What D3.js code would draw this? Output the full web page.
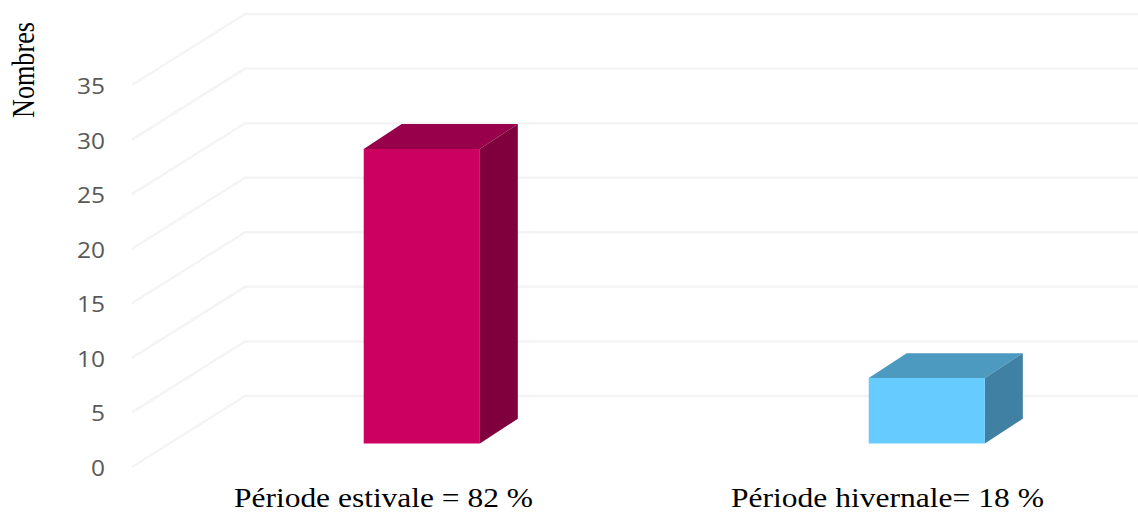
<!DOCTYPE html>
<html><head><meta charset="utf-8">
<script src="https://cdn.jsdelivr.net/npm/d3@7/dist/d3.min.js"></script>
<style>html,body{margin:0;padding:0;background:#fff;overflow:hidden}svg{display:block}</style>
</head><body><div id="chart"></div>
<script>
const categories = ["Période estivale = 82 %", "Période hivernale= 18 %"];
const values = [27, 6];
const frontColors = ["#cc0060", "#66ccff"];
const topColors = ["#99004b", "#4d9ac1"];
const sideColors = ["#80003c", "#4080a3"];
const tickValues = [0, 5, 10, 15, 20, 25, 30, 35];
const axisTitle = "Nombres";

const W = 1138, H = 515;
const svg = d3.select("#chart").append("svg").attr("width", W).attr("height", H);
const soft = svg.append("defs").append("filter").attr("id", "soft")
  .attr("x", "-5%").attr("y", "-5%").attr("width", "110%").attr("height", "110%");
soft.append("feGaussianBlur").attr("stdDeviation", 0.45);

const y = d3.scaleLinear().domain([0, 35]).range([467, 85]);
const x = d3.scaleBand().domain(categories).range([132, 1142]).paddingInner(0.77).paddingOuter(0.385);
const depthX = 113, depthY = -71;
const proj = (px, v, t, tx = t) => [px + tx * depthX, y(v) + t * depthY];
const barNear = 0.33, barFar = 0.68, barFarX = 0.666;

const line = d3.line();
const grid = svg.append("g").attr("fill", "none").attr("stroke", "#f4f4f4").attr("stroke-width", 2.5).attr("filter", "url(#soft)");
grid.selectAll("path").data(tickValues).join("path")
  .attr("d", v => line([proj(x.range()[0], v, 0), proj(x.range()[0], v, 1), proj(x.range()[1], v, 1)]));

const yAxis = d3.axisLeft(y).tickValues(tickValues).tickSize(0).tickPadding(0);
const ag = svg.append("g").attr("transform", "translate(105,1.5)").call(yAxis);
ag.select(".domain").remove();
ag.selectAll("text")
  .attr("font-family", "'Open Sans', sans-serif").attr("font-size", 22).attr("fill", "#595959")
  .attr("textLength", d => String(d).length * 14).attr("lengthAdjust", "spacingAndGlyphs");

const poly = pts => "M" + pts.map(p => p.join(",")).join("L") + "Z";
const bars = svg.append("g").attr("filter", "url(#soft)").selectAll("g").data(categories).join("g");
bars.append("path").attr("fill", (d, i) => topColors[i]).attr("d", (d, i) => {
  const a = x(d), b = a + x.bandwidth(), v = values[i];
  return poly([proj(a, v, barNear), proj(b, v, barNear), proj(b, v, barFar, barFarX), proj(a, v, barFar, barFarX)]);
});
bars.append("path").attr("fill", (d, i) => sideColors[i]).attr("d", (d, i) => {
  const b = x(d) + x.bandwidth(), v = values[i];
  return poly([proj(b, 0, barNear), proj(b, v, barNear), proj(b, v, barFar, barFarX), proj(b, 0, barFar, barFarX)]);
});
bars.append("path").attr("fill", (d, i) => frontColors[i]).attr("d", (d, i) => {
  const a = x(d), b = a + x.bandwidth(), v = values[i];
  return poly([proj(a, 0, barNear), proj(a, v, barNear), proj(b, v, barNear), proj(b, 0, barNear)]);
});

const labelWidths = [299, 313];
svg.append("g").selectAll("text").data(categories).join("text")
  .attr("x", (d, i) => x(d) + x.bandwidth() / 2 - (i === 0 ? 1 : 2))
  .attr("y", 507)
  .attr("text-anchor", "middle")
  .attr("font-family", "'Liberation Serif', serif")
  .attr("font-size", 27)
  .attr("fill", "#000")
  .attr("textLength", (d, i) => labelWidths[i])
  .attr("lengthAdjust", "spacingAndGlyphs")
  .text(d => d);

svg.append("text")
  .attr("transform", "translate(34,70) rotate(-90)")
  .attr("text-anchor", "middle")
  .attr("font-family", "'Liberation Serif', serif")
  .attr("font-size", 32)
  .attr("fill", "#000")
  .attr("textLength", 96)
  .attr("lengthAdjust", "spacingAndGlyphs")
  .text(axisTitle);
</script></body></html>
